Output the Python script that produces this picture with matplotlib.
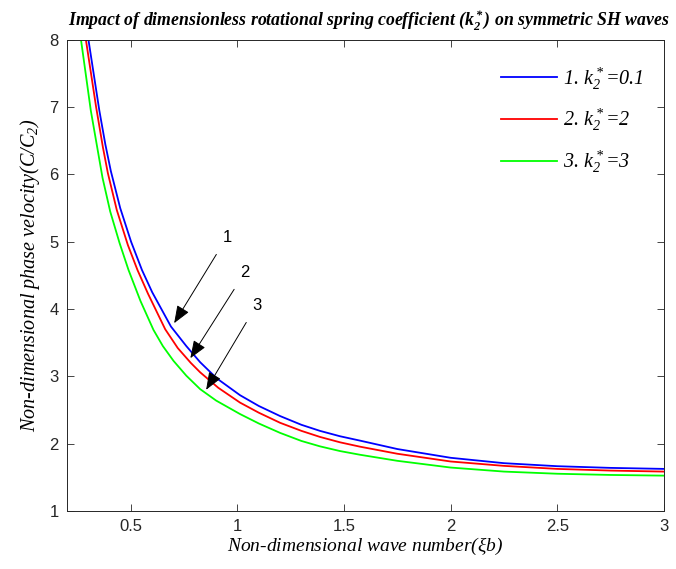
import numpy as np
import matplotlib
matplotlib.use('Agg')
import matplotlib.pyplot as plt

plt.rcParams['mathtext.fontset'] = 'custom'
plt.rcParams['mathtext.it'] = 'Liberation Serif:italic'
plt.rcParams['mathtext.rm'] = 'Liberation Serif:italic'
plt.rcParams['mathtext.bf'] = 'Liberation Serif:italic:bold'

# curve 1: k2* = 0.1
x_blue = [0.301, 0.352, 0.380, 0.406, 0.450, 0.501, 0.552, 0.600, 0.688, 0.760, 0.825, 0.903,
          1.012, 1.10, 1.20, 1.30, 1.387, 1.481, 1.575, 1.75, 2.0, 2.25, 2.5, 2.75, 3.0]
y_blue = [8.0, 6.95, 6.45, 6.05, 5.50, 5.0, 4.58, 4.25, 3.74, 3.45, 3.21, 2.97,
          2.72, 2.56, 2.41, 2.28, 2.19, 2.11, 2.045, 1.92, 1.79, 1.71, 1.665, 1.64, 1.625]
# curve 2: k2* = 2
x_red = [0.289, 0.337, 0.369, 0.392, 0.434, 0.486, 0.531, 0.580, 0.661, 0.720, 0.781, 0.825,
         0.910, 1.012, 1.10, 1.20, 1.30, 1.387, 1.481, 1.575, 1.75, 2.0, 2.25, 2.5, 2.75, 3.0]
y_red = [8.0, 7.0, 6.40, 6.02, 5.47, 4.95, 4.58, 4.23, 3.70, 3.42, 3.20, 3.06,
         2.83, 2.61, 2.46, 2.31, 2.19, 2.10, 2.02, 1.955, 1.85, 1.735, 1.67, 1.625, 1.60, 1.585]
# curve 3: k2* = 3
x_green = [0.266, 0.312, 0.367, 0.403, 0.447, 0.489, 0.545, 0.606, 0.650, 0.700, 0.760, 0.825,
           0.900, 1.012, 1.10, 1.20, 1.30, 1.387, 1.481, 1.575, 1.75, 2.0, 2.25, 2.5, 2.75, 3.0]
y_green = [8.0, 6.95, 5.95, 5.45, 4.98, 4.58, 4.12, 3.69, 3.45, 3.23, 3.01, 2.81,
           2.64, 2.44, 2.30, 2.16, 2.04, 1.96, 1.89, 1.835, 1.745, 1.645, 1.585, 1.553, 1.535, 1.525]

labels = ['1. $k_2^*$=0.1', '2. $k_2^*$=2', '3. $k_2^*$=3']
colors = ['#0000ff', '#ff0000', '#00ff00']

# arrow annotations: text, text pos, tip pos
ann_text = ['1', '2', '3']
ann_xytext = [(0.951, 5.07), (1.036, 4.55), (1.09, 4.06)]
ann_tip = [(0.703, 3.79), (0.779, 3.27), (0.853, 2.80)]

fig = plt.figure(figsize=(6.76, 5.69), dpi=100)
ax = fig.add_axes([0.099, 0.102, 0.883, 0.828])

serif = 'Liberation Serif'
sans = 'Liberation Sans'

for xs, ys, c, lab in zip([x_blue, x_red, x_green], [y_blue, y_red, y_green], colors, labels):
    ax.plot(xs, ys, color=c, lw=1.3, label=lab)

for t, xyt, tip in zip(ann_text, ann_xytext, ann_tip):
    ax.annotate(t, xy=tip, xytext=xyt, fontsize=12, family=sans, ha='center', va='center',
                arrowprops=dict(arrowstyle='-|>,head_length=0.9,head_width=0.35',
                                color='black', lw=0.7, shrinkA=6, shrinkB=0))

ax.set_xlim(0.2, 3)
ax.set_ylim(1, 8)
ax.set_xticks([0.5, 1, 1.5, 2, 2.5, 3])
ax.set_xticklabels(['0.5', '1', '1.5', '2', '2.5', '3'])
ax.set_yticks(range(1, 9))
ax.tick_params(direction='in', top=True, right=True, length=5, width=0.6,
               labelsize=12, colors='#262626', pad=6)
for lbl in ax.get_xticklabels() + ax.get_yticklabels():
    lbl.set_family(sans)
for s in ax.spines.values():
    s.set_linewidth(0.7)
    s.set_color('#262626')

ax.set_xlabel(r'Non-dimensional wave number($\xi b$)', family=serif, style='italic',
              fontsize=14, labelpad=1)
ax.set_ylabel(r'Non-dimensional phase velocity(C/C$_2$)', family=serif, style='italic',
              fontsize=14.5, labelpad=5)
ax.set_title(r'Impact of dimensionless rotational spring coefficient ($\mathbf{k_2^*}$) on symmetric SH waves',
             family=serif, style='italic', weight='bold', fontsize=12.8, pad=10, x=0.505)

leg = ax.legend(loc='upper right', frameon=False, handlelength=2.8, handletextpad=0.3,
                labelspacing=0.75, bbox_to_anchor=(0.997, 0.985),
                prop={'family': serif, 'style': 'italic', 'size': 14.5})

fig.savefig('out.png', dpi=100)
